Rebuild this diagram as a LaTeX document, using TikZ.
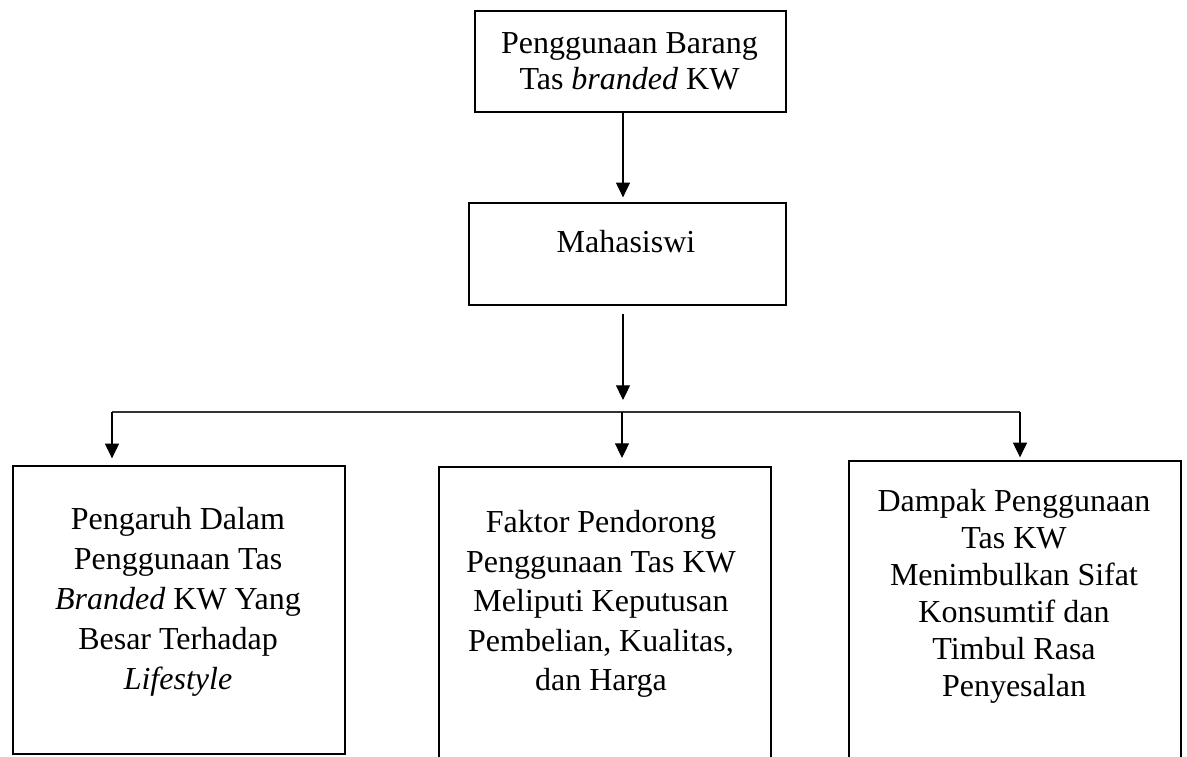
\documentclass[tikz,border=0pt]{standalone}
\usepackage{fontspec}
\setmainfont{Liberation Serif}
\usetikzlibrary{arrows.meta}
\begin{document}
\begin{tikzpicture}[x=0.75pt,y=-0.75pt,
  box/.style={draw, line width=1.5pt, rectangle, inner sep=0pt, anchor=north west},
  txt/.style={align=center, inner sep=0pt, font=\fontsize{24}{#1}\selectfont},
  conn/.style={line width=0.8pt, -{Triangle[width=10.5pt,length=11pt]}},
  hbar/.style={line width=0.9pt, draw=black!80}]
\useasboundingbox (0,0) rectangle (1187,756);
% boxes
\node[box, minimum width=233.25pt, minimum height=75.75pt] (top) at (474,10) {};
\node[box, minimum width=237.75pt, minimum height=76.5pt] (mah) at (468,202) {};
\node[box, minimum width=249pt, minimum height=216pt] (left) at (12,465) {};
\node[box, minimum width=249pt, minimum height=250pt] (mid) at (438,466) {};
\node[box, minimum width=249pt, minimum height=255pt] (right) at (848,460) {};
% texts
\node[txt=27] (t0) at (629.5,61) {Penggunaan Barang\\Tas \textit{branded} KW};
\node[txt=27] (t1) at (626,242) {Mahasiswi};
\node[txt=30] (t2) at (178,602) {Pengaruh Dalam\\Penggunaan Tas\\\textit{Branded} KW Yang\\Besar Terhadap\\\textit{Lifestyle}};
\node[txt=29.6] (t3) at (601,604) {Faktor Pendorong\\Penggunaan Tas KW\\Meliputi Keputusan\\Pembelian, Kualitas,\\dan Harga};
\node[txt=27.75] (t4) at (1014,596) {Dampak Penggunaan\\Tas KW\\Menimbulkan Sifat\\Konsumtif dan\\Timbul Rasa\\Penyesalan};
% connectors
\coordinate (spine) at (623,0);
\coordinate (barL) at (112,412);
\coordinate (barM) at (622,412);
\coordinate (barR) at (1020,412);
\draw[conn, shorten >=3.5pt] (top.south -| spine) -- (mah.north -| spine);
\draw[conn, shorten <=6pt, shorten >=9pt] (mah.south -| spine) -- (barM -| spine);
\draw[hbar] (barL) -- (barR);
\draw[conn, shorten >=5pt] (barL) -- (left.north -| barL);
\draw[conn, shorten >=6pt] (barM) -- (mid.north -| barM);
\draw[conn, shorten >=2pt] (barR) -- (right.north -| barR);
\end{tikzpicture}
\end{document}
